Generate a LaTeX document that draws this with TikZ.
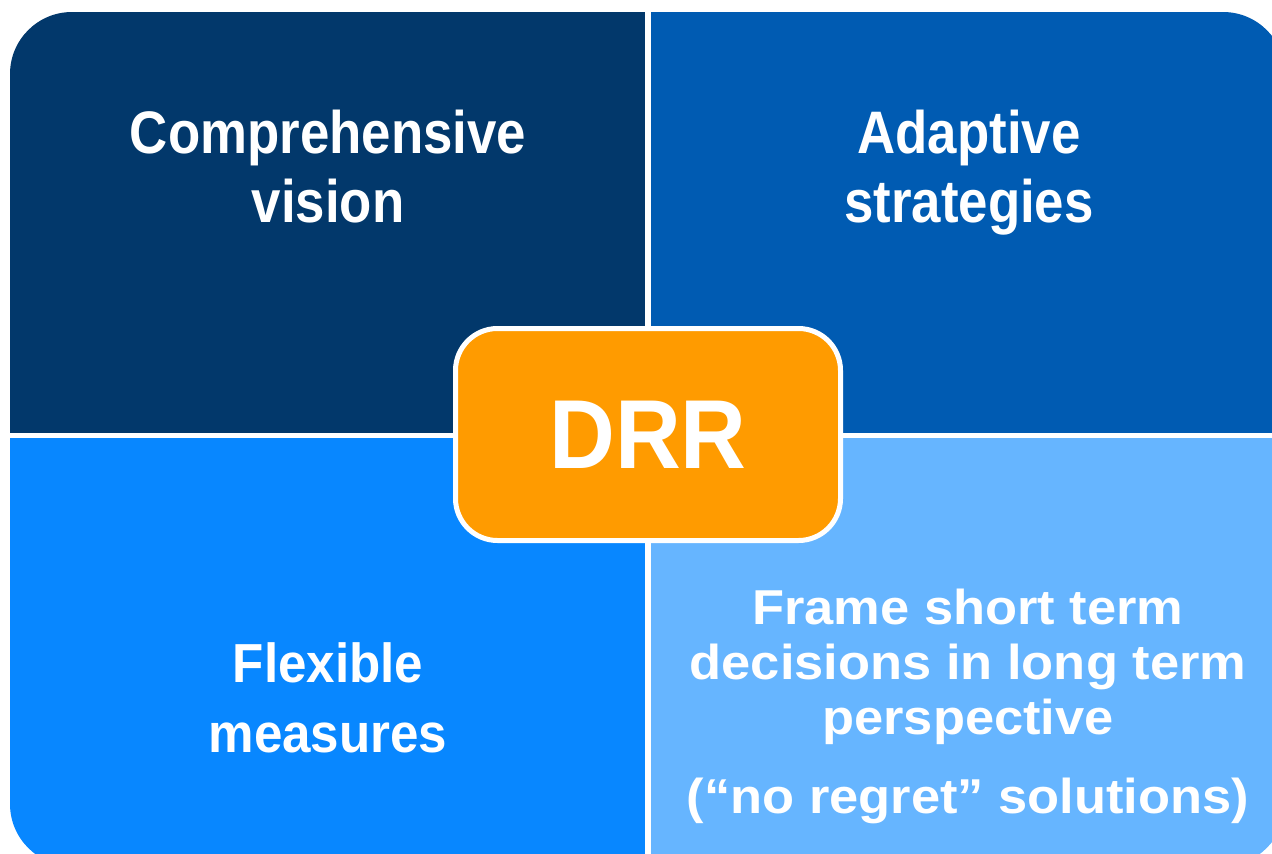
\documentclass[tikz,border=0pt]{standalone}
\usepackage{fontspec}
\setmainfont{Liberation Sans}
\newfontfamily\topfont{Liberation Sans}[FakeStretch=0.88]
\newfontfamily\lowfont{Liberation Sans}[FakeStretch=0.93]
\newfontfamily\widefont{Liberation Sans}[FakeStretch=1.07]
\newfontfamily\hubfont{Liberation Sans}[FakeStretch=0.93]

\definecolor{quadnavy}{RGB}{2,56,107}
\definecolor{quadblue}{RGB}{0,91,178}
\definecolor{quadbright}{RGB}{8,135,255}
\definecolor{quadsky}{RGB}{102,181,255}
\definecolor{huborange}{RGB}{255,155,0}

\begin{document}
\begin{tikzpicture}[x=1pt,y=-1pt,
    quadtext/.style={text=white,align=center,anchor=base,inner sep=0pt,
        font=\topfont\bfseries\fontsize{60}{69}\selectfont},
    lowtext/.style={quadtext,font=\lowfont\bfseries\fontsize{55}{70}\selectfont},
    widetext/.style={quadtext,font=\widefont\bfseries\fontsize{49}{55}\selectfont},
    hub/.style={rounded corners=42pt,fill=huborange,draw=white,line width=5pt,
        minimum width=385pt,minimum height=212pt,inner sep=0pt,text=white,
        font=\hubfont\bfseries\fontsize{98}{110}\selectfont}]
    \useasboundingbox (0,0) rectangle (1272,854);
    \fill[white] (0,0) rectangle (1272,854);

    % four quarters, outer corners rounded
    \begin{scope}
        \clip[rounded corners=62pt] (10,12) rectangle (1285,866);
        \fill[quadnavy] (10,12) rectangle (645,433);
        \fill[quadblue] (651,12) rectangle (1285,433);
        \fill[quadbright] (10,438) rectangle (645,866);
        \fill[quadsky] (651,438) rectangle (1285,866);
    \end{scope}

    % base anchor sits on the last line
    \node[quadtext] (vision) at (328,222) {Comprehensive\\vision};
    \node[quadtext] (adaptive) at (969,222) {Adaptive\\strategies};
    \node[lowtext] (flexible) at (328,752) {Flexible\\measures};
    \node[widetext] (frame) at (968,813)
        {Frame short term\\decisions in long term\\perspective\\[24pt](“no regret” solutions)};

    % centre box
    \node[hub] (drr) at (648,434.5) {DRR};
\end{tikzpicture}
\end{document}
